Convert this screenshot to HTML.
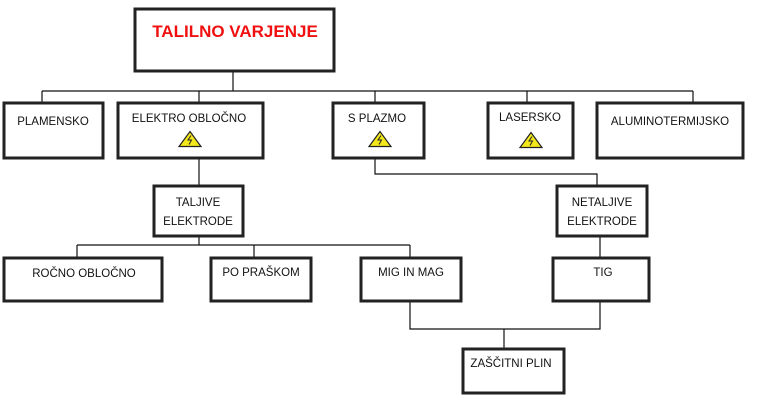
<!DOCTYPE html>
<html><head><meta charset="utf-8"><style>
html,body{margin:0;padding:0;background:#fff;}
svg{display:block;}
text{font-family:"Liberation Sans",sans-serif;font-size:11.5px;fill:#111;text-anchor:middle;}
</style></head><body>
<svg width="763" height="401" viewBox="0 0 763 401" xmlns="http://www.w3.org/2000/svg">
<defs>
<g id="w">
<polygon points="0,-7.5 11,7.5 -11,7.5" fill="#f2e81c" stroke="#222" stroke-width="1.2"/>
<polyline points="1,-3.5 -2,1 1.5,1 -1,5.5" fill="none" stroke="#222" stroke-width="1"/>
</g>
</defs>
<g stroke="#111" stroke-width="1.2" fill="none">
<line x1="233" y1="70" x2="233" y2="91"/>
<line x1="42" y1="91" x2="693" y2="91"/>
<line x1="42" y1="91" x2="42" y2="103"/>
<line x1="199" y1="91" x2="199" y2="103"/>
<line x1="375" y1="91" x2="375" y2="103"/>
<line x1="527" y1="91" x2="527" y2="103"/>
<line x1="693" y1="91" x2="693" y2="103"/>
<line x1="199" y1="158" x2="199" y2="185"/>
<polyline points="375,158 375,174 597,174 597,186"/>
<line x1="199" y1="236" x2="199" y2="245"/>
<line x1="77" y1="245" x2="410" y2="245"/>
<line x1="77" y1="245" x2="77" y2="257"/>
<line x1="254" y1="245" x2="254" y2="257"/>
<line x1="410" y1="245" x2="410" y2="257"/>
<line x1="600" y1="236" x2="600" y2="257"/>
<polyline points="410,301 410,329 600,329 600,301"/>
<line x1="504" y1="329" x2="504" y2="348"/>
</g>
<g stroke="#222" stroke-width="3" fill="#fff">
<rect x="135" y="9" width="199" height="62"/>
<rect x="4" y="103" width="99" height="55"/>
<rect x="118" y="103" width="145" height="55"/>
<rect x="333" y="103" width="91" height="55"/>
<rect x="488" y="103" width="85" height="55"/>
<rect x="597" y="103" width="146" height="55"/>
<rect x="154" y="186" width="89" height="50"/>
<rect x="557" y="186" width="90" height="50"/>
<rect x="4" y="258" width="158" height="43"/>
<rect x="211" y="258" width="100" height="43"/>
<rect x="361" y="258" width="100" height="43"/>
<rect x="553" y="258" width="96" height="43"/>
<rect x="463" y="349" width="101" height="44"/>
</g>
<text x="235" y="37" style="fill:#f01010;font-weight:bold;font-size:17px">TALILNO VARJENJE</text>
<text x="53" y="125">PLAMENSKO</text>
<text x="189" y="122">ELEKTRO OBLOČNO</text>
<text x="377" y="122">S PLAZMO</text>
<text x="530" y="121">LASERSKO</text>
<text x="670" y="125">ALUMINOTERMIJSKO</text>
<text x="198" y="206">TALJIVE</text>
<text x="198" y="225">ELEKTRODE</text>
<text x="602" y="206">NETALJIVE</text>
<text x="602" y="225">ELEKTRODE</text>
<text x="84" y="277">ROČNO OBLOČNO</text>
<text x="261" y="276">PO PRAŠKOM</text>
<text x="411" y="276">MIG IN MAG</text>
<text x="603" y="276">TIG</text>
<text x="511" y="367">ZAŠČITNI PLIN</text>
<use href="#w" x="190" y="139"/>
<use href="#w" x="380" y="139"/>
<use href="#w" x="531" y="140"/>
</svg>
</body></html>
